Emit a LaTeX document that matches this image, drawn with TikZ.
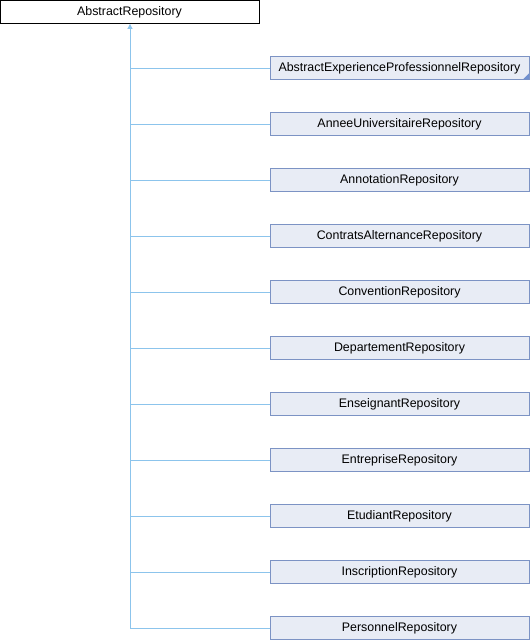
\documentclass[tikz,border=0pt]{standalone}
\usepackage{fontspec}
\setmainfont{Liberation Sans}
\usetikzlibrary{arrows.meta,calc}
\definecolor{boxfill}{HTML}{E8ECF5}
\definecolor{boxdraw}{HTML}{7C93C4}
\definecolor{edgecol}{HTML}{8CC4EC}
\definecolor{markcol}{HTML}{6F8FCF}
\tikzset{
  base/.style={draw=black, fill=white, minimum width=259pt, minimum height=23pt, inner sep=0pt, font=\fontsize{12.4}{14}\selectfont, line width=0.8pt},
  child/.style={draw=boxdraw, fill=boxfill, minimum width=259pt, minimum height=23pt, inner sep=0pt, font=\fontsize{12.4}{14}\selectfont, line width=0.8pt},
  edge/.style={draw=edgecol, line width=0.8pt},
}
\begin{document}
\begin{tikzpicture}[x=1pt,y=-1pt]
\useasboundingbox (0,0) rectangle (530,640);
\node[base] (root) at (129.5,12) {AbstractRepository};
\coordinate (trunk) at (130,628);
\foreach \n/\t [count=\i from 0] in {
 c0/AbstractExperienceProfessionnelRepository,
 c1/AnneeUniversitaireRepository,
 c2/AnnotationRepository,
 c3/ContratsAlternanceRepository,
 c4/ConventionRepository,
 c5/DepartementRepository,
 c6/EnseignantRepository,
 c7/EntrepriseRepository,
 c8/EtudiantRepository,
 c9/InscriptionRepository,
 c10/PersonnelRepository} {
  \node[child] (\n) at (399.5,68+56*\i) {\t};
  \draw[edge] (\n.west) -- (130,68+56*\i);
}
\fill[markcol] ($(c0.south east)+(-0.5,-0.5)$) -- ++(0,-6) -- ++(-6,6) -- cycle;
\draw[edge, -{Triangle[length=5pt,width=5pt]}] (trunk) -- (root.south -| trunk);
\end{tikzpicture}
\end{document}
